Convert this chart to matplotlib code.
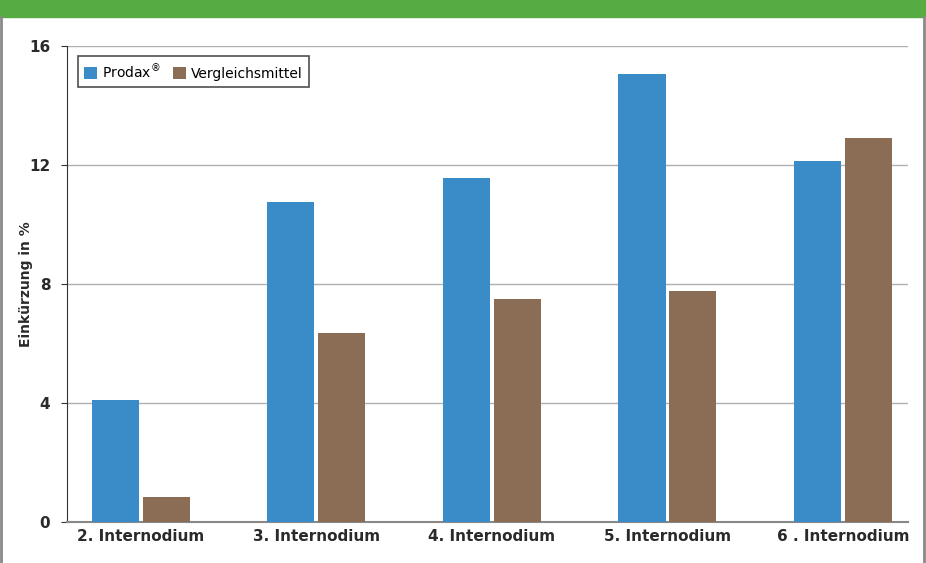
import matplotlib.pyplot as plt
from matplotlib.patches import Rectangle
from matplotlib.lines import Line2D
import numpy as np

categories = ['2. Internodium', '3. Internodium', '4. Internodium',
              '5. Internodium', '6 . Internodium']
prodax = [4.1, 10.76, 11.56, 15.06, 12.13]
vergleich = [0.84, 6.35, 7.5, 7.76, 12.9]
yticks = [0, 4, 8, 12, 16]

blue = '#3A8CC9'
brown = '#8B6D55'
green = '#56AB43'


def main():
    fig = plt.figure(figsize=(9.26, 5.63), dpi=100)
    ax = fig.add_axes([67 / 926, 1 - 522 / 563, 841 / 926, 476 / 563])

    # green banner on top and grey side borders
    fig.patches.append(Rectangle((0, 1 - 17 / 563), 1, 17 / 563,
                                 transform=fig.transFigure, color=green,
                                 zorder=0))
    for xx in (1 / 926, 924 / 926):
        fig.lines.append(Line2D([xx, xx], [0, 1 - 17 / 563],
                                transform=fig.transFigure,
                                color='#8a8a8a', lw=2))

    x = np.arange(len(categories))
    w = 0.268
    off = 0.145
    ax.bar(x - off, prodax, w, color=blue, label='Prodax$^{®}$', zorder=3)
    ax.bar(x + off, vergleich, w, color=brown, label='Vergleichsmittel',
           zorder=3)

    ax.set_xlim(-0.42, 4.37)
    ax.set_ylim(0, 16)
    ax.set_yticks(yticks)
    ax.set_xticks(x)
    ax.set_xticklabels(categories)
    ax.yaxis.grid(True, color='#b0b0b0', lw=1)
    ax.set_axisbelow(True)

    for s in ['top', 'right']:
        ax.spines[s].set_visible(False)
    ax.spines['left'].set_color('#333333')
    ax.spines['bottom'].set_color('#888888')
    ax.spines['bottom'].set_linewidth(1.5)
    ax.tick_params(axis='x', length=0, pad=5)
    ax.tick_params(axis='y', length=4, color='#333333', pad=8)
    for lab in ax.get_xticklabels() + ax.get_yticklabels():
        lab.set_fontweight('bold')
        lab.set_fontsize(11)
        lab.set_color('#2a2a2a')

    ax.set_ylabel('Einkürzung in %', fontsize=10, fontweight='bold',
                  color='#2a2a2a')
    ax.yaxis.set_label_coords(-0.040, 0.5)

    leg = ax.legend(loc='upper left', bbox_to_anchor=(0.013, 0.979), ncol=2,
                    frameon=True, fancybox=False, fontsize=10,
                    handlelength=0.9, handleheight=0.9, columnspacing=0.9,
                    handletextpad=0.4, borderpad=0.45, borderaxespad=0)
    leg.get_frame().set_edgecolor('#222222')
    leg.get_frame().set_linewidth(1.2)
    leg._legend_box.set_offset  # keep default placement
    plt.savefig('out.png', dpi=100)


if __name__ == '__main__':
    main()
